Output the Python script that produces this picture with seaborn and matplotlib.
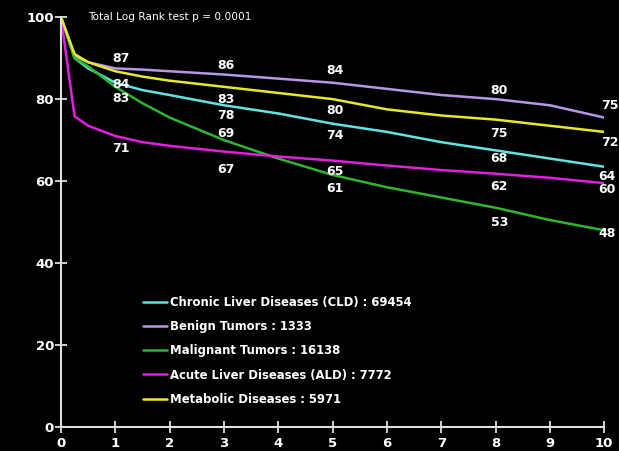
import pandas as pd
import matplotlib
matplotlib.use("Agg")
import matplotlib.pyplot as plt
import seaborn as sns

# survival (%)
years = [0, 0.25, 0.5, 1, 1.5, 2, 3, 4, 5, 6, 7, 8, 9, 10]
cld = [100, 90, 87.5, 84, 82.2, 81, 78.5, 76.5, 74, 72, 69.5, 67.5, 65.5, 63.5]
benign = [100, 90.5, 89, 87.5, 87.2, 86.8, 86, 85, 84, 82.5, 81, 80, 78.5, 75.5]
malignant = [100, 90, 88, 83, 79, 75.5, 70, 65.5, 61.5, 58.5, 56, 53.5, 50.5, 48]
ald = [100, 75.8, 73.5, 71, 69.5, 68.6, 67.2, 66, 65, 63.8, 62.7, 61.8, 60.8, 59.5]
metabolic = [100, 91, 89, 86.8, 85.5, 84.5, 83, 81.5, 80, 77.5, 76, 75, 73.5, 72]

groups = ["Chronic Liver Diseases (CLD) : 69454", "Benign Tumors : 1333",
          "Malignant Tumors : 16138", "Acute Liver Diseases (ALD) : 7772",
          "Metabolic Diseases : 5971"]
colors = ["#5fe3e3", "#b896e6", "#2fb52f", "#e21ee0", "#e8e82a"]

# printed survival figures (value, x, y)
labels = ["87", "84", "83", "71",
          "86", "83", "78", "69", "67",
          "84", "80", "74", "65", "61",
          "80", "75", "68", "62", "53",
          "75", "72", "64", "60", "48"]
label_x = [1.1, 1.1, 1.1, 1.1,
           3.04, 3.04, 3.04, 3.04, 3.04,
           5.05, 5.05, 5.05, 5.05, 5.05,
           8.07, 8.07, 8.07, 8.07, 8.07,
           10.11, 10.11, 10.06, 10.06, 10.06]
label_y = [90.0, 83.6, 80.2, 68.0,
           88.3, 80.0, 75.9, 71.7, 62.9,
           87.1, 77.3, 71.0, 62.4, 58.3,
           82.2, 71.5, 65.4, 58.8, 50.0,
           78.5, 69.5, 61.0, 57.9, 47.1]

df = pd.concat([
    pd.DataFrame({"year": years, "surv": s, "group": g})
    for s, g in zip([cld, benign, malignant, ald, metabolic], groups)
])

sns.set_theme(style="dark")
fg = "#e0e0e0"
plt.rcParams.update({
    "figure.facecolor": "black",
    "axes.facecolor": "black",
    "text.color": "white",
    "font.family": ["DejaVu Sans"],
})

fig = plt.figure(figsize=(6.19, 4.51), dpi=100)
ax = fig.add_axes([0.0985, 0.0532, 0.8775, 0.9088])

sns.lineplot(data=df, x="year", y="surv", hue="group", hue_order=groups,
             palette=colors, linewidth=1.8, ax=ax)

for t, x, y in zip(labels, label_x, label_y):
    ax.text(x, y, t, ha="center", va="center", color="white",
            fontsize=9, fontweight="bold")

ax.text(0.5, 100, "Total Log Rank test p = 0.0001", ha="left", va="center",
        color="white", fontsize=7.6)

ax.set_xlim(0, 10)
ax.set_ylim(0, 100)
ax.set_xticks(range(0, 11))
ax.set_yticks(range(0, 101, 20))
ax.set_xlabel("")
ax.set_ylabel("")
ax.grid(False)
for side in ["top", "right"]:
    ax.spines[side].set_visible(False)
for side in ["left", "bottom"]:
    ax.spines[side].set_color(fg)
    ax.spines[side].set_linewidth(1.5)
    ax.spines[side].set_visible(True)
ax.tick_params(axis="both", direction="inout", length=8, width=1.3, color=fg,
               labelcolor="white", labelsize=9.5, bottom=True, left=True)
ax.tick_params(axis="y", pad=1)
ax.tick_params(axis="x", pad=3)
for lbl in ax.get_xticklabels() + ax.get_yticklabels():
    lbl.set_fontweight("bold")

handles, names = ax.get_legend_handles_labels()
leg = ax.legend(handles, names, loc="upper left", bbox_to_anchor=(0.143, 0.332),
                frameon=False, handlelength=2.05, handletextpad=0.25,
                labelspacing=0.97, borderaxespad=0,
                prop={"weight": "bold", "size": 8.4})
for t in leg.get_texts():
    t.set_color("white")

fig.savefig("out.png", dpi=100, facecolor="black")
